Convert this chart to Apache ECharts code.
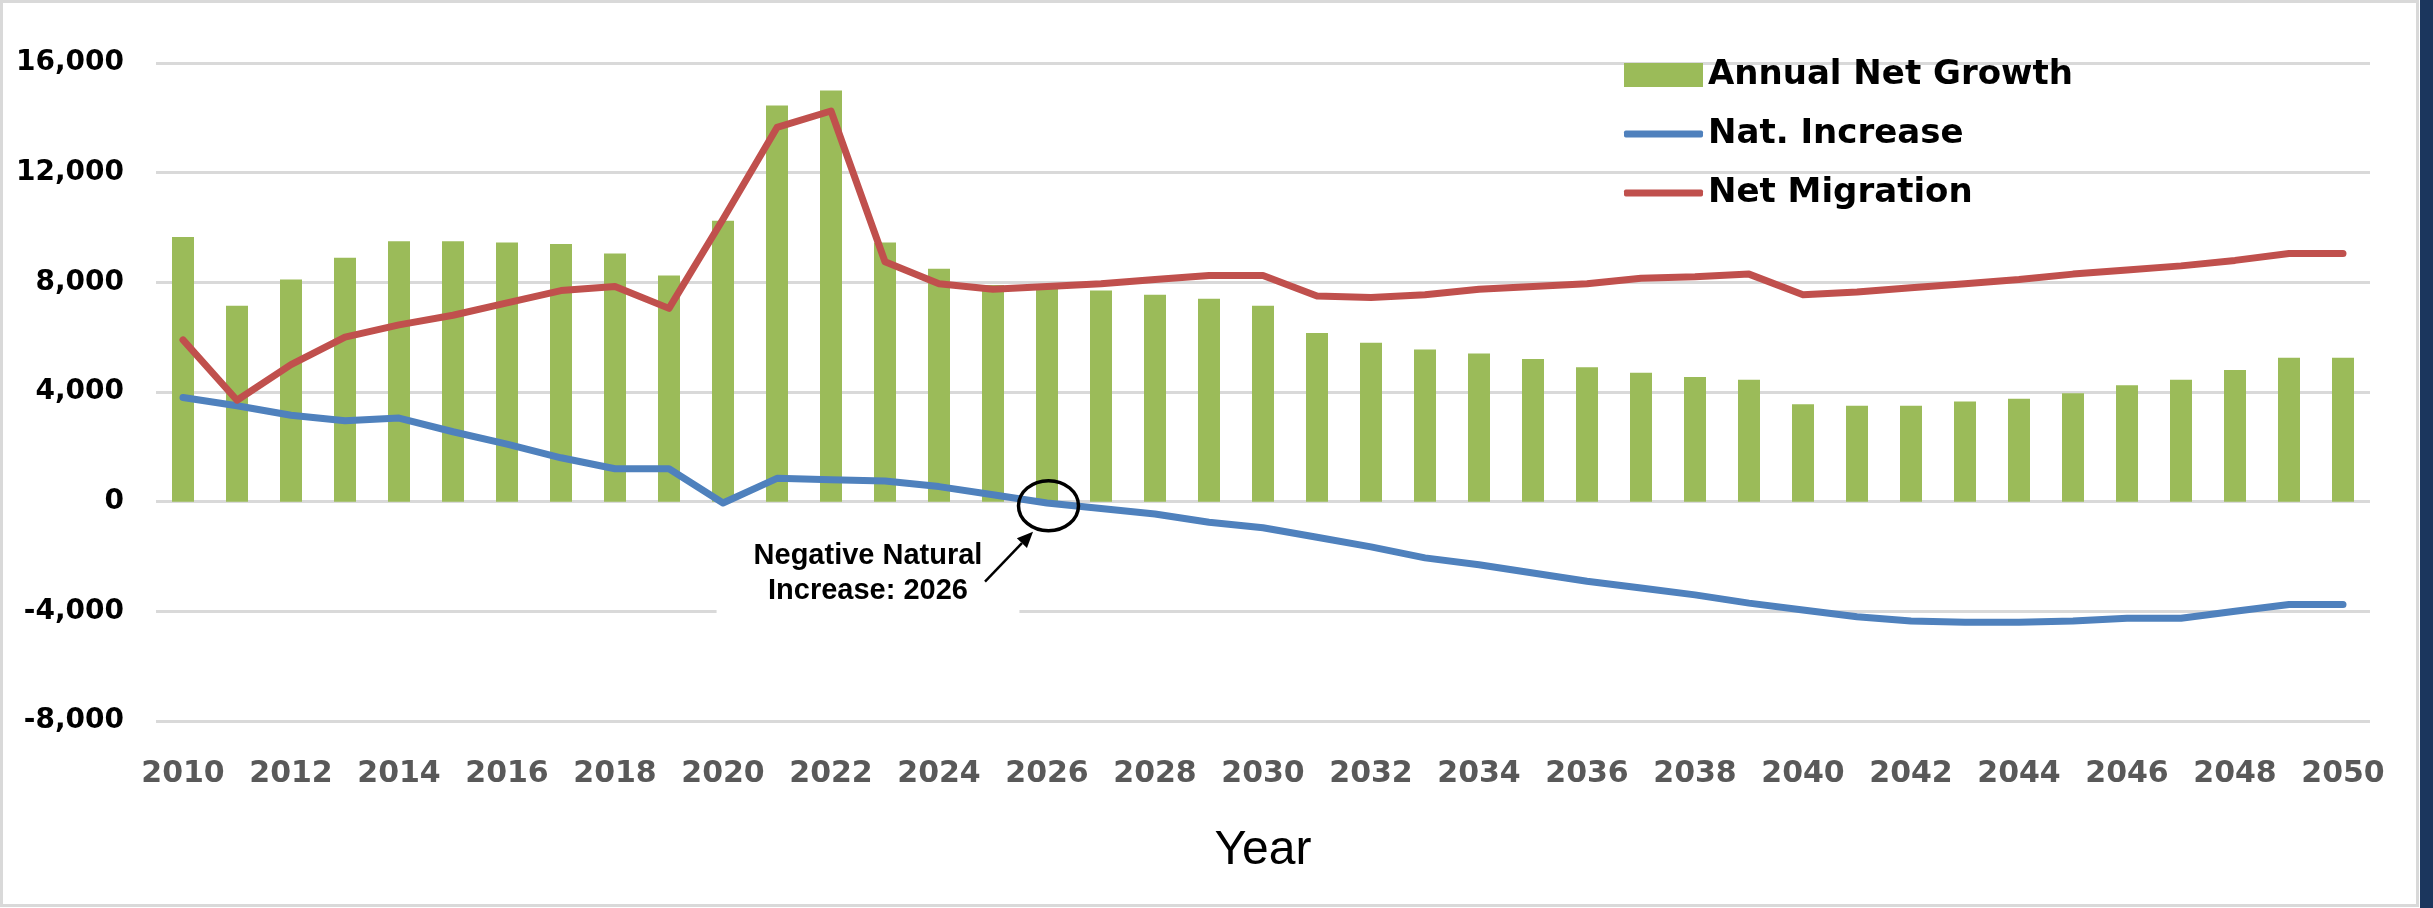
<!DOCTYPE html>
<html>
<head>
<meta charset="utf-8">
<title>Annual Net Growth</title>
<script src="https://cdn.jsdelivr.net/npm/echarts@6/dist/echarts.min.js"></script>
<style>
  html, body { margin: 0; padding: 0; background: #ffffff; }
  #chart { width: 2433px; height: 908px; }
</style>
</head>
<body>
<div id="chart"></div>
<script>
// years on the category axis
const years = ['2010', '2011', '2012', '2013', '2014', '2015', '2016', '2017', '2018', '2019',
  '2020', '2021', '2022', '2023', '2024', '2025', '2026', '2027', '2028', '2029',
  '2030', '2031', '2032', '2033', '2034', '2035', '2036', '2037', '2038', '2039',
  '2040', '2041', '2042', '2043', '2044', '2045', '2046', '2047', '2048', '2049', '2050']

// bars: annual net growth
const netGrowth = [9650, 7150, 8100, 8900, 9500, 9500, 9450, 9400, 9050, 8250,
  10250, 14450, 15000, 9450, 8500, 7900, 7800, 7700, 7550, 7400,
  7150, 6150, 5800, 5550, 5400, 5200, 4900, 4700, 4550, 4450,
  3550, 3500, 3500, 3650, 3750, 3950, 4250, 4450, 4800, 5250, 5250]

// blue line: natural increase
const natIncrease = [3800, 3500, 3150, 2950, 3050, 2550, 2100, 1600, 1200, 1200,
  -50, 850, 800, 750, 550, 250, -50, -250, -450, -750,
  -950, -1300, -1650, -2050, -2300, -2600, -2900, -3150, -3400, -3700,
  -3950, -4200, -4350, -4400, -4400, -4350, -4250, -4250, -4000, -3750, -3750]

// red line: net migration
const netMigration = [5900, 3700, 5000, 6000, 6450, 6800, 7250, 7700, 7850, 7050,
  10300, 13650, 14250, 8750, 7950, 7750, 7850, 7950, 8100, 8250,
  8250, 7500, 7450, 7550, 7750, 7850, 7950, 8150, 8200, 8300,
  7550, 7650, 7800, 7950, 8100, 8300, 8450, 8600, 8800, 9050, 9050]

// y axis ticks
const yTicks = [-8000, -4000, 0, 4000, 8000, 12000, 16000]

// annotation
const noteYear = '2026'
const noteLines = ['Negative Natural', 'Increase: 2026']

const chartDom = document.getElementById('chart')
const chart = echarts.init(chartDom)

const legendText = {
  fontFamily: 'DejaVu Sans',
  fontWeight: 'bold',
  fontSize: 34,
  lineHeight: 36,
  color: '#000000'
}

const option = {
  animation: false,
  backgroundColor: '#ffffff',
  grid: {
    left: 156,
    right: 63,
    top: 63,
    bottom: 187,
    containLabel: false
  },
  legend: [
    {
      // bar entry
      orient: 'vertical',
      left: 1619,
      top: 52,
      itemWidth: 79,
      itemHeight: 24,
      textStyle: legendText,
      data: [{ name: 'Annual Net Growth', icon: 'rect' }]
    },
    {
      // line entries
      orient: 'vertical',
      left: 1619,
      top: 111,
      itemWidth: 79,
      itemHeight: 7,
      itemGap: 23,
      textStyle: legendText,
      data: [
        { name: 'Nat. Increase', icon: 'roundRect' },
        { name: 'Net Migration', icon: 'roundRect' }
      ]
    }
  ],
  xAxis: {
    type: 'category',
    data: years,
    name: 'Year',
    nameLocation: 'middle',
    nameGap: 106,
    nameTextStyle: {
      fontFamily: 'Liberation Sans',
      fontSize: 48,
      color: '#000000'
    },
    axisLine: { show: false },
    axisTick: { show: false },
    axisLabel: {
      interval: 1,
      margin: 38,
      fontFamily: 'DejaVu Sans',
      fontWeight: 'bold',
      fontSize: 30,
      color: '#595959'
    }
  },
  yAxis: {
    type: 'value',
    min: yTicks[0],
    max: yTicks[yTicks.length - 1],
    interval: 4000,
    axisLine: { show: false },
    axisTick: { show: false },
    splitLine: {
      lineStyle: { color: '#d9d9d9', width: 3 }
    },
    axisLabel: {
      margin: 32,
      fontFamily: 'DejaVu Sans',
      fontWeight: 'bold',
      fontSize: 28,
      color: '#000000',
      formatter: v => v.toLocaleString('en-US')
    }
  },
  series: [
    {
      name: 'Annual Net Growth',
      type: 'bar',
      barWidth: 22,
      itemStyle: { color: '#9bbb59' },
      data: netGrowth
    },
    {
      name: 'Nat. Increase',
      type: 'line',
      symbol: 'none',
      lineStyle: { color: '#4f81bd', width: 7, cap: 'round', join: 'round' },
      itemStyle: { color: '#4f81bd' },
      data: natIncrease
    },
    {
      name: 'Net Migration',
      type: 'line',
      symbol: 'none',
      lineStyle: { color: '#c0504d', width: 7, cap: 'round', join: 'round' },
      itemStyle: { color: '#c0504d' },
      data: netMigration
    }
  ]
}

chart.setOption(option)

// annotation placed from the axis position of 2026 / 0
const [cx0, cy0] = chart.convertToPixel({ xAxisIndex: 0, yAxisIndex: 0 }, [noteYear, 0])
const cx = cx0 + 1.5
const cy = cy0 + 4
const tip = [cx - 15.5, cy + 26]
const tail = [cx - 63.5, cy + 76]
const ang = Math.atan2(tip[1] - tail[1], tip[0] - tail[0])
const headLen = 16
const headW = 7
const base = [tip[0] - headLen * Math.cos(ang), tip[1] - headLen * Math.sin(ang)]
const head = [
  tip,
  [base[0] + headW * Math.sin(ang), base[1] - headW * Math.cos(ang)],
  [base[0] - headW * Math.sin(ang), base[1] + headW * Math.cos(ang)]
]

chart.setOption({
  graphic: [
    // slide frame
    {
      type: 'rect',
      shape: { x: 1.5, y: 1.5, width: 2416, height: 904 },
      style: { fill: null, stroke: '#d9d9d9', lineWidth: 3 },
      z: 100
    },
    {
      type: 'rect',
      shape: { x: 2420, y: 0, width: 13, height: 908 },
      style: { fill: '#1b365d' },
      z: 100
    },
    // annotation text with white box
    {
      type: 'text',
      x: cx - 180.5,
      y: cy + 68,
      z: 50,
      style: {
        text: noteLines.join('\n'),
        fontFamily: 'Liberation Sans',
        fontWeight: 'bold',
        fontSize: 29,
        lineHeight: 35,
        fill: '#000000',
        align: 'center',
        verticalAlign: 'middle',
        backgroundColor: '#ffffff',
        padding: [14, 37, 14, 37]
      }
    },
    {
      type: 'ellipse',
      shape: { cx: cx, cy: cy, rx: 30, ry: 25 },
      style: { fill: null, stroke: '#000000', lineWidth: 3.5 },
      z: 50
    },
    {
      type: 'line',
      shape: { x1: tail[0], y1: tail[1], x2: base[0], y2: base[1] },
      style: { stroke: '#000000', lineWidth: 2.5 },
      z: 50
    },
    {
      type: 'polygon',
      shape: { points: head },
      style: { fill: '#000000' },
      z: 50
    }
  ]
})

window.addEventListener('resize', () => chart.resize())
</script>
</body>
</html>
